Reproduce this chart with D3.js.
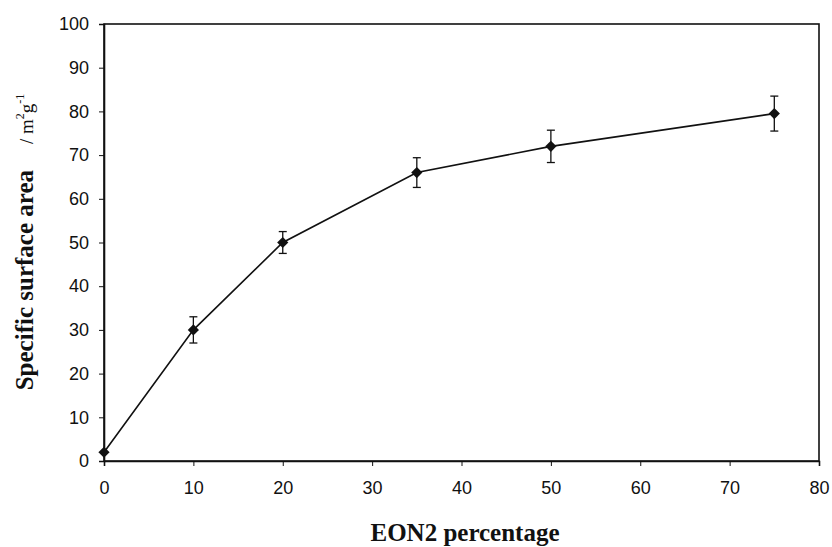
<!DOCTYPE html>
<html>
<head>
<script src="https://cdn.jsdelivr.net/npm/d3@7"></script>
<style>
  body { margin: 0; background: #fff; }
  svg { display: block; }
  .tick text { font-family: "Liberation Sans", Arial, sans-serif; font-size: 18px; fill: #111; }
</style>
</head>
<body>
<svg id="chart" width="832" height="547"></svg>
<script>
// data
var percent = [0, 10, 20, 35, 50, 75];
var area = [2, 30, 50, 66, 72, 79.5];
var errs = [0, 3, 2.5, 3.4, 3.7, 4];
var xTicks = [0, 10, 20, 30, 40, 50, 60, 70, 80];
var yTicks = [0, 10, 20, 30, 40, 50, 60, 70, 80, 90, 100];

var svg = d3.select("#chart");
// plot box (window.top is reserved, so keep these in an object)
var box = {left: 104, top: 24, right: 819, bottom: 461};

var x = d3.scaleLinear().domain([0, 80]).range([box.left, box.right]);
var y = d3.scaleLinear().domain([0, 100]).range([box.bottom, box.top]);

var pts = percent.map(function(p, i) { return {x: p, y: area[i], e: errs[i]}; });

// frame
svg.append("rect")
  .attr("x", box.left).attr("y", box.top)
  .attr("width", box.right - box.left).attr("height", box.bottom - box.top)
  .attr("fill", "none").attr("stroke", "#111").attr("stroke-width", 1.6);

var xAxis = svg.append("g")
  .attr("transform", "translate(0," + box.bottom + ")")
  .call(d3.axisBottom(x).tickValues(xTicks).tickSize(5).tickPadding(15).tickFormat(d3.format("d")));
var yAxis = svg.append("g")
  .attr("transform", "translate(" + box.left + ",0)")
  .call(d3.axisLeft(y).tickValues(yTicks).tickSize(5).tickPadding(10).tickFormat(d3.format("d")));
[xAxis, yAxis].forEach(function(a) {
  a.select(".domain").attr("stroke", "#111").attr("stroke-width", 1.6);
  a.selectAll(".tick line").attr("stroke", "#111");
});

// line
svg.append("path")
  .datum(pts)
  .attr("fill", "none")
  .attr("stroke", "#111")
  .attr("stroke-width", 1.6)
  .attr("d", d3.line().x(function(d) { return x(d.x); }).y(function(d) { return y(d.y); }));

// error bars
var eb = svg.selectAll(".err").data(pts.filter(function(d) { return d.e > 0; }))
  .enter().append("g").attr("class", "err").attr("stroke", "#111").attr("stroke-width", 1.3);
eb.append("line")
  .attr("x1", function(d) { return x(d.x); }).attr("x2", function(d) { return x(d.x); })
  .attr("y1", function(d) { return y(d.y - d.e); }).attr("y2", function(d) { return y(d.y + d.e); });
eb.append("line")
  .attr("x1", function(d) { return x(d.x) - 4; }).attr("x2", function(d) { return x(d.x) + 4; })
  .attr("y1", function(d) { return y(d.y + d.e); }).attr("y2", function(d) { return y(d.y + d.e); });
eb.append("line")
  .attr("x1", function(d) { return x(d.x) - 4; }).attr("x2", function(d) { return x(d.x) + 4; })
  .attr("y1", function(d) { return y(d.y - d.e); }).attr("y2", function(d) { return y(d.y - d.e); });

// diamond markers
svg.selectAll(".pt").data(pts).enter().append("path")
  .attr("class", "pt")
  .attr("transform", function(d) { return "translate(" + x(d.x) + "," + y(d.y) + ")"; })
  .attr("d", d3.symbol().type(d3.symbolDiamond2).size(80))
  .attr("fill", "#111");

// axis titles
svg.append("text")
  .attr("x", 465).attr("y", 541)
  .attr("text-anchor", "middle")
  .attr("font-family", "Liberation Serif, Times New Roman, serif")
  .attr("font-weight", "bold").attr("font-size", 25)
  .attr("fill", "#111")
  .text("EON2 percentage");

var yt = svg.append("text")
  .attr("transform", "translate(33,242) rotate(-90)")
  .attr("text-anchor", "middle")
  .attr("font-family", "Liberation Serif, Times New Roman, serif")
  .attr("fill", "#111");
yt.append("tspan").attr("font-weight", "bold").attr("font-size", 25).text("Specific surface area");
yt.append("tspan").attr("font-size", 19).attr("dx", 26).attr("dy", 0).text("/ m");
yt.append("tspan").attr("font-size", 12).attr("dy", -9).text("2");
yt.append("tspan").attr("font-size", 19).attr("dy", 9).text("g");
yt.append("tspan").attr("font-size", 12).attr("dy", -9).text("-1");
</script>
</body>
</html>
